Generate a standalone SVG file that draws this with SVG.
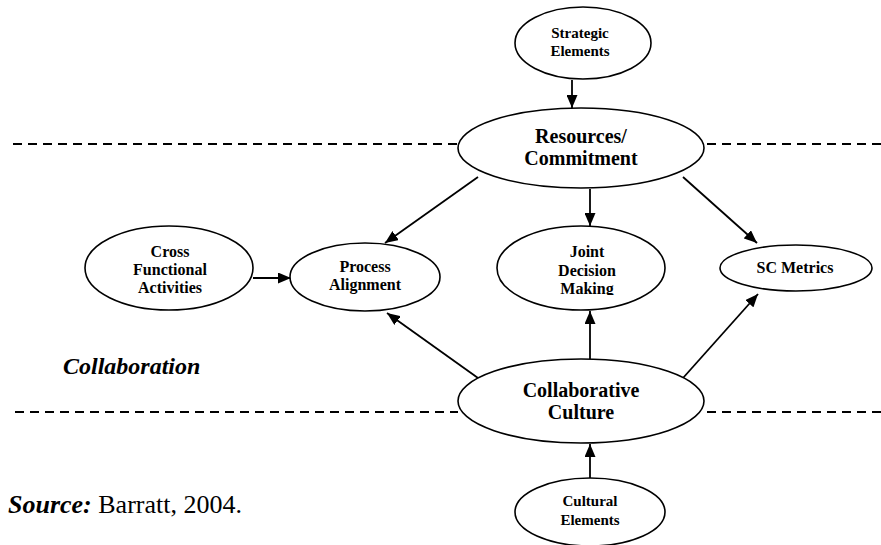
<svg xmlns="http://www.w3.org/2000/svg" width="881" height="545" viewBox="0 0 881 545">
  <style>
    text { font-family: "Liberation Serif", "Times New Roman", serif; fill: #000000; }
    .node { fill: #ffffff; stroke: #000000; stroke-width: 1.6; }
    .lbl { font-weight: bold; text-anchor: middle; }
    .big { font-size: 20px; }
    .mid { font-size: 16px; }
    .sm { font-size: 15px; }
    .edge { stroke: #000000; stroke-width: 1.8; fill: none; marker-end: url(#arrow); }
    .dash { stroke: #000000; stroke-width: 2; stroke-dasharray: 9 6; fill: none; }
  </style>
  <defs>
    <marker id="arrow" markerUnits="userSpaceOnUse" markerWidth="13" markerHeight="11" refX="13" refY="5.5" orient="auto">
      <path d="M0,0 L13,5.5 L0,11 z" fill="#000000"/>
    </marker>
    <!-- the bottom line of the Joint Decision Making label is cut at its baseline -->
    <clipPath id="jointClip">
      <rect x="480" y="200" width="200" height="95"/>
    </clipPath>
  </defs>

  <rect width="881" height="545" fill="#ffffff"/>

  <!-- layer boundaries -->
  <g id="boundaries">
    <line class="dash" x1="13" y1="144" x2="458" y2="144"/>
    <line class="dash" x1="707" y1="144" x2="881" y2="144"/>
    <line class="dash" x1="15" y1="412" x2="458" y2="412"/>
    <line class="dash" x1="707" y1="412" x2="881" y2="412"/>
  </g>

  <!-- connectors -->
  <g id="connectors">
    <line class="edge" x1="572" y1="80" x2="572" y2="108"/>
    <line class="edge" x1="253" y1="278" x2="291" y2="278"/>
    <line class="edge" x1="478" y1="177" x2="385" y2="243"/>
    <line class="edge" x1="590" y1="189" x2="590" y2="226"/>
    <line class="edge" x1="683" y1="177" x2="757" y2="243"/>
    <line class="edge" x1="478" y1="378" x2="387" y2="313"/>
    <line class="edge" x1="590" y1="359" x2="590" y2="311"/>
    <line class="edge" x1="683" y1="378" x2="758" y2="294"/>
    <line class="edge" x1="590" y1="478" x2="590" y2="444"/>
  </g>

  <g id="strategic-elements">
    <ellipse class="node" cx="583" cy="43" rx="68" ry="36"/>
    <text class="lbl sm" x="580" y="38">Strategic</text>
    <text class="lbl sm" x="580" y="56">Elements</text>
  </g>

  <g id="resources-commitment">
    <ellipse class="node" cx="581" cy="148" rx="123" ry="40"/>
    <text class="lbl big" x="581" y="143">Resources/</text>
    <text class="lbl big" x="581" y="165">Commitment</text>
  </g>

  <g id="cross-functional-activities">
    <ellipse class="node" cx="169" cy="268" rx="84" ry="42"/>
    <text class="lbl mid" x="170" y="257">Cross</text>
    <text class="lbl mid" x="170" y="275">Functional</text>
    <text class="lbl mid" x="170" y="293">Activities</text>
  </g>

  <g id="process-alignment">
    <ellipse class="node" cx="365" cy="277" rx="75" ry="34"/>
    <text class="lbl mid" x="365" y="272">Process</text>
    <text class="lbl mid" x="365" y="290">Alignment</text>
  </g>

  <g id="joint-decision-making">
    <ellipse class="node" cx="581" cy="268" rx="84" ry="42"/>
    <g clip-path="url(#jointClip)">
      <text class="lbl mid" x="587" y="257">Joint</text>
      <text class="lbl mid" x="587" y="276">Decision</text>
      <text class="lbl mid" x="587" y="294">Making</text>
    </g>
  </g>

  <g id="sc-metrics">
    <ellipse class="node" cx="796" cy="268" rx="76" ry="23"/>
    <text class="lbl mid" x="795" y="273">SC Metrics</text>
  </g>

  <g id="collaborative-culture">
    <ellipse class="node" cx="581" cy="401" rx="123" ry="42"/>
    <text class="lbl big" x="581" y="397">Collaborative</text>
    <text class="lbl big" x="581" y="419">Culture</text>
  </g>

  <g id="cultural-elements">
    <ellipse class="node" cx="590" cy="512" rx="75" ry="34"/>
    <text class="lbl sm" x="590" y="506">Cultural</text>
    <text class="lbl sm" x="590" y="525">Elements</text>
  </g>

  <text x="63" y="374" font-size="24" font-weight="bold" font-style="italic">Collaboration</text>
  <text x="8" y="513" font-size="26"><tspan font-weight="bold" font-style="italic">Source:</tspan> Barratt, 2004.</text>
</svg>
